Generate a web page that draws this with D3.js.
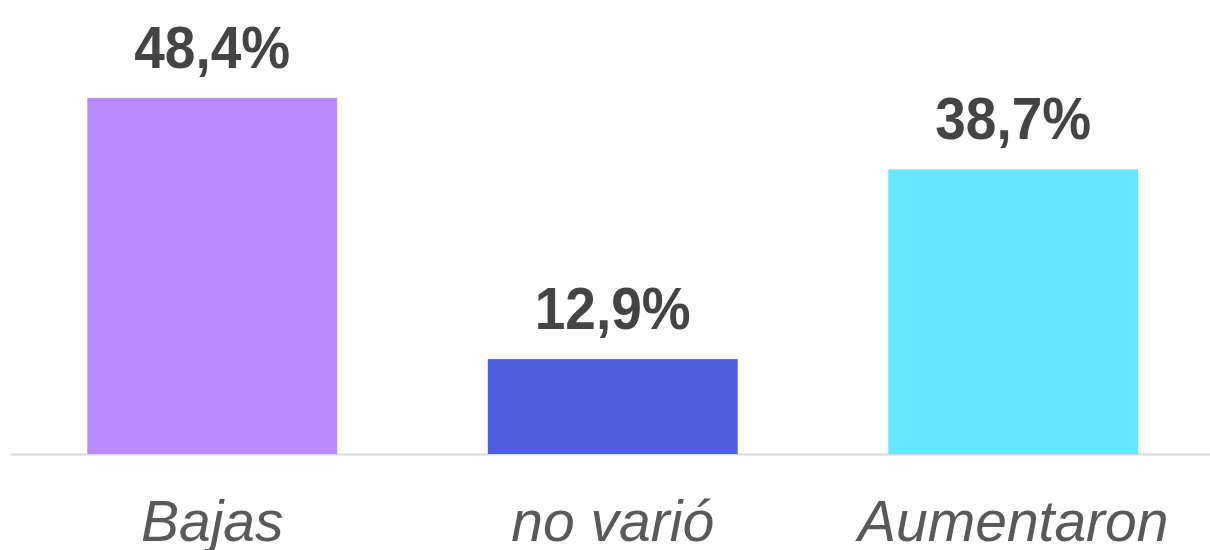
<!DOCTYPE html>
<html>
<head>
<meta charset="utf-8">
<script src="https://cdn.jsdelivr.net/npm/d3@7"></script>
<style>
html, body { margin: 0; padding: 0; background: #fff; }
svg { display: block; }
</style>
</head>
<body>
<svg id="chart" width="1210" height="550"></svg>
<script>
const categories = ["Bajas", "no varió", "Aumentaron"];
const values = [48.4, 12.9, 38.7];
const valueLabels = ["48,4%", "12,9%", "38,7%"];
const colors = ["#B98BFF", "#4F5EDB", "#66E7FD"];

const svg = d3.select("#chart");
const baseY = 454;
const x = d3.scaleBand().domain(categories).range([12, 1213.5]).paddingInner(0.376).paddingOuter(0.188);
const y = d3.scaleLinear().domain([0, 48.4]).range([baseY, 98]);

svg.append("line")
  .attr("x1", 11).attr("x2", 1210)
  .attr("y1", baseY + 0.5).attr("y2", baseY + 0.5)
  .attr("stroke", "#DADADA").attr("stroke-width", 2);

svg.selectAll("rect.bar").data(values).join("rect")
  .attr("class", "bar")
  .attr("x", (d, i) => x(categories[i]))
  .attr("width", x.bandwidth())
  .attr("y", d => y(d))
  .attr("height", d => y(0) - y(d))
  .attr("fill", (d, i) => colors[i]);

svg.selectAll("text.val").data(values).join("text")
  .attr("class", "val")
  .attr("transform", (d, i) => `translate(${x(categories[i]) + x.bandwidth() / 2},${y(d) - 30}) scale(1,1.08)`)
  .attr("text-anchor", "middle")
  .attr("font-family", "'Liberation Sans', Arial, sans-serif")
  .attr("font-weight", "bold")
  .attr("font-size", 55)
  .attr("fill", "#444444")
  .text((d, i) => valueLabels[i]);

svg.selectAll("text.cat").data(categories).join("text")
  .attr("class", "cat")
  .attr("x", d => x(d) + x.bandwidth() / 2)
  .attr("y", 541)
  .attr("text-anchor", "middle")
  .attr("font-family", "'Liberation Sans', Arial, sans-serif")
  .attr("font-style", "italic")
  .attr("font-size", 57)
  .attr("fill", "#595959")
  .text(d => d);
</script>
</body>
</html>
